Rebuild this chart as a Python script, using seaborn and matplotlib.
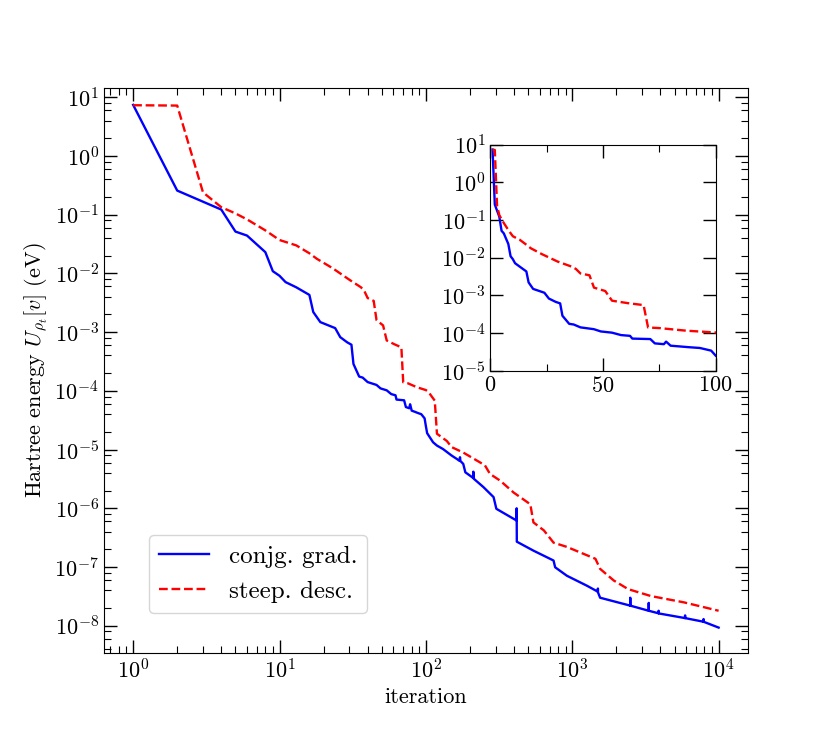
import numpy as np
import pandas as pd
import matplotlib
matplotlib.use("Agg")
import matplotlib.pyplot as plt
from matplotlib.ticker import FixedLocator, NullLocator, LogLocator, NullFormatter
import seaborn as sns

# ---------------- data ----------------
cg_iter = [1, 2, 4, 5, 6, 8, 9, 10, 11, 13, 16, 17, 19, 24, 26, 29, 31, 32, 35, 37,
           40, 46, 49, 54, 58, 62, 63, 71, 73, 77, 78, 80, 84, 88, 93, 98, 100, 102,
           112, 119, 131, 150, 163, 170, 171, 172, 180, 186, 210, 211, 212, 247, 290,
           303, 416, 417, 418, 543, 745, 764, 919, 1260, 1495, 1497, 1499, 1550, 1820,
           2490, 2491, 2492, 3330, 3331, 3332, 3880, 3890, 3900, 5900, 5901, 5902,
           7890, 7891, 7892, 10000]
cg_val = [7.4, 0.257, 0.122, 0.0515, 0.044, 0.023, 0.0109, 0.0091, 0.0071, 0.0058,
          0.0043, 0.0022, 0.00148, 0.00117, 0.00082, 0.00067, 0.00061, 0.000287,
          0.000175, 0.000168, 0.000141, 0.000126, 0.00011, 0.000102, 8.8e-5, 8.4e-5,
          7.1e-5, 6.9e-5, 5.3e-5, 5.05e-5, 5.9e-5, 4.6e-5, 4.4e-5, 4.2e-5, 4.0e-5,
          3.4e-5, 2.5e-5, 1.9e-5, 1.33e-5, 1.17e-5, 1.02e-5, 7.9e-6, 6.9e-6, 6.4e-6,
          7.4e-6, 6.4e-6, 5.7e-6, 4.1e-6, 3.3e-6, 4.2e-6, 3.2e-6, 2.3e-6, 1.55e-6,
          9.8e-7, 6.2e-7, 1.0e-6, 2.7e-7, 1.9e-7, 1.29e-7, 9.9e-8, 7.1e-8, 4.8e-8,
          3.8e-8, 4.3e-8, 3.7e-8, 3.0e-8, 2.7e-8, 2.2e-8, 3.0e-8, 2.2e-8, 1.8e-8,
          2.45e-8, 1.8e-8, 1.63e-8, 1.8e-8, 1.62e-8, 1.35e-8, 1.5e-8, 1.35e-8,
          1.17e-8, 1.3e-8, 1.17e-8, 9.3e-9]

sd_iter = [1, 2, 3, 4, 5, 6, 8, 10, 12, 13, 16, 18, 23, 30, 36, 38, 40, 44, 46, 51,
           54, 61, 68, 70, 75, 87, 100, 104, 115, 119, 139, 150, 180, 253, 274, 322,
           397, 517, 543, 640, 745, 919, 1440, 1550, 1920, 2410, 3450, 5800, 10000]
sd_val = [7.3, 7.2, 0.24, 0.134, 0.105, 0.083, 0.054, 0.037, 0.032, 0.030, 0.022,
          0.0177, 0.0123, 0.0078, 0.0058, 0.0050, 0.0038, 0.0034, 0.0016, 0.0013,
          0.00072, 0.00062, 0.00055, 0.00014, 0.000135, 0.000115, 0.000103, 9.6e-5,
          6.8e-5, 1.86e-5, 1.4e-5, 1.1e-5, 8.9e-6, 5.4e-6, 3.85e-6, 2.95e-6, 1.86e-6,
          1.17e-6, 5.75e-7, 4.2e-7, 2.6e-7, 2.2e-7, 1.38e-7, 9.3e-8, 5.9e-8, 4.2e-8,
          3.2e-8, 2.5e-8, 1.8e-8]

labels = ["conjg. grad.", "steep. desc."]
main_xticks = [1, 10, 100, 1000, 10000]
main_yticks = [1e-8, 1e-7, 1e-6, 1e-5, 1e-4, 1e-3, 1e-2, 1e-1, 1e0, 1e1]
inset_xticks = [0, 50, 100]
inset_xminor = [25, 75]
inset_yticks = [1e-5, 1e-4, 1e-3, 1e-2, 1e-1, 1e0, 1e1]

# ---------------- style ----------------
plt.rcParams["font.family"] = ["cmr10"]
plt.rcParams["mathtext.fontset"] = "cm"
plt.rcParams["axes.formatter.use_mathtext"] = True
plt.rcParams["axes.unicode_minus"] = False

cg = pd.DataFrame({"iteration": cg_iter, "energy": cg_val})
sd = pd.DataFrame({"iteration": sd_iter, "energy": sd_val})

fig = plt.figure(figsize=(8.31, 7.34), dpi=100)
ax = fig.add_subplot(111)

def draw(a, leg):
    sns.lineplot(data=cg, x="iteration", y="energy", ax=a, color="b", lw=1.7,
                 estimator=None, sort=False, label=labels[0] if leg else None)
    sns.lineplot(data=sd, x="iteration", y="energy", ax=a, color="r", lw=1.7,
                 linestyle="--", estimator=None, sort=False,
                 label=labels[1] if leg else None)

draw(ax, True)
ax.set_xscale("log")
ax.set_yscale("log")
ax.set_xlim(10 ** -0.2, 10 ** 4.2)
ax.set_ylim(3.4e-9, 14.3)
ax.yaxis.set_major_locator(FixedLocator(main_yticks))
ax.yaxis.set_minor_locator(LogLocator(base=10, subs=(2, 4, 6, 8), numticks=30))
ax.yaxis.set_minor_formatter(NullFormatter())
ax.xaxis.set_major_locator(FixedLocator(main_xticks))
ax.xaxis.set_minor_locator(LogLocator(base=10, subs=np.arange(2, 10), numticks=30))
ax.xaxis.set_minor_formatter(NullFormatter())
ax.set_xlabel("iteration", fontsize=16)
ax.set_ylabel(r"Hartree energy $U_{\rho_t}[v]$ (eV)", fontsize=16)
ax.tick_params(which="both", direction="in", top=True, right=True,
               labelsize=16)
ax.tick_params(which="major", length=9.5, width=1.0)
ax.tick_params(which="minor", length=4.8, width=0.8)
ax.legend(loc="lower left", bbox_to_anchor=(0.05, 0.05), fontsize=18)

# ---------------- inset ----------------
axin = ax.inset_axes([0.6, 0.5, 0.35, 0.4])
draw(axin, False)
axin.set_yscale("log")
axin.set_xlim(0, 100)
axin.set_ylim(1e-5, 1e1)
axin.set_xlabel("")
axin.set_ylabel("")
axin.xaxis.set_major_locator(FixedLocator(inset_xticks))
axin.xaxis.set_minor_locator(FixedLocator(inset_xminor))
axin.yaxis.set_major_locator(FixedLocator(inset_yticks))
axin.yaxis.set_minor_locator(NullLocator())
axin.tick_params(which="both", direction="in", top=True, right=True,
                 labelsize=16)
axin.tick_params(which="major", length=9.5, width=1.0)
axin.tick_params(which="minor", length=4.8, width=0.8)

fig.savefig("out.png", dpi=100)
